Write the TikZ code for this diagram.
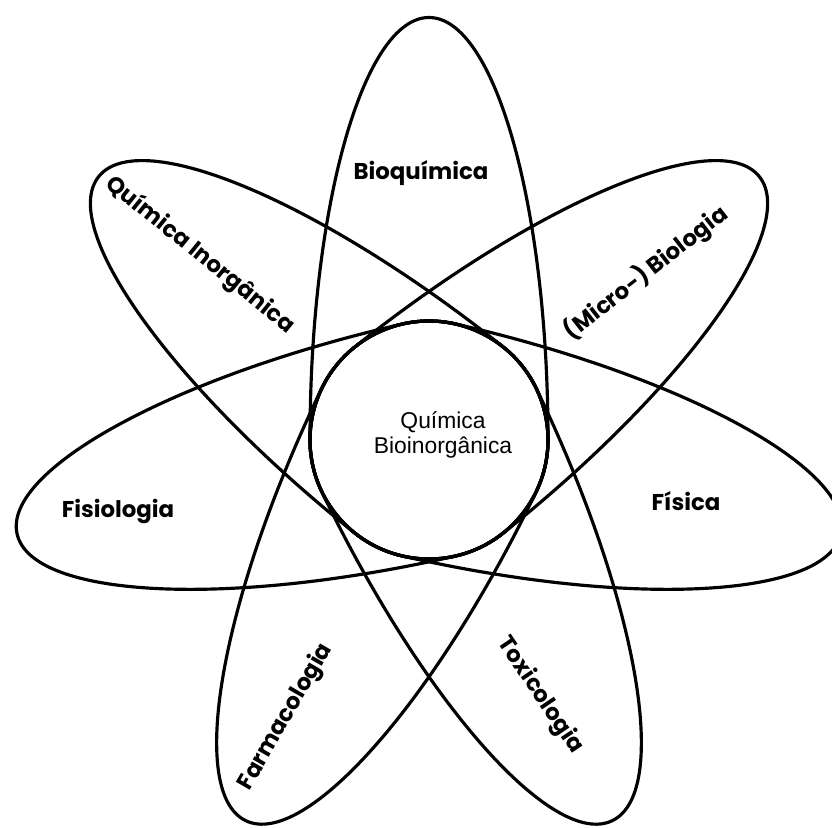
\documentclass[tikz,border=0pt]{standalone}
\usepackage{fontspec}
\newfontfamily\petalfont{Poppins}
\newfontfamily\corefont{Liberation Sans}
\usepackage{tikz}
\usetikzlibrary{positioning}
\tikzset{petal_line/.style={draw, line width=1.8pt},
core/.style={draw, circle, line width=1.8pt, minimum size=4.76cm, inner sep=0pt},
core_t/.style={align=center, font=\corefont\fontsize{13}{14.5}\selectfont},
petal_t/.style={font=\petalfont\bfseries\fontsize{13}{15}\selectfont},
petal/.pic={\draw[petal_line] (0,-2.38) arc[start angle=-90, end angle=90, x radius=8.45cm, y radius=2.38cm]
  arc[start angle=90, end angle=270, radius=2.38cm] -- cycle;}}

\begin{document}
\begin{tikzpicture}
  \fill[white] (-8.58,-7.74) rectangle (8.06,8.80);
  \useasboundingbox (-8.58,-7.74) rectangle (8.06,8.80);
  % seven petals round the core
  \pic[rotate=90] (p1) {petal};
  \pic[rotate=38.57] (p2) {petal};
  \pic[rotate=-12.86] (p3) {petal};
  \pic[rotate=-64.29] (p4) {petal};
  \pic[rotate=-115.71] (p5) {petal};
  \pic[rotate=-167.14] (p6) {petal};
  \pic[rotate=141.43] (p7) {petal};
  \node[core] (core) at (0,0) {};
  \node[core_t] (core_lbl) at (0.28,0.1) {Química\\Bioinorgânica};
  % petal labels
  \node[petal_t] (bioq) at (-0.16,5.34) {Bioquímica};
  \node[petal_t, rotate=-39] (qinorg) at (-4.58,3.70) {Química Inorgânica};
  \node[petal_t, rotate=38] (micro) at (4.34,3.34) {(Micro-)\,Biologia};
  \node[petal_t] (fisio) at (-6.22,-1.42) {Fisiologia};
  \node[petal_t] (fisica) at (5.14,-1.22) {Física};
  \node[petal_t, rotate=60] (farma) at (-2.86,-5.54) {Farmacologia};
  \node[petal_t, rotate=-56] (toxi) at (2.22,-5.10) {Toxicologia};
\end{tikzpicture}
\end{document}
